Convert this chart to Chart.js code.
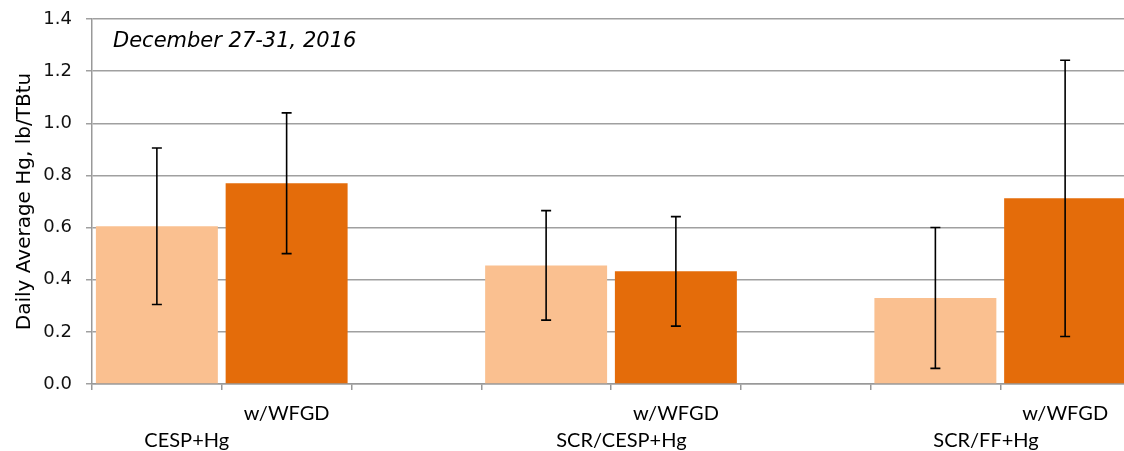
<!DOCTYPE html>
<html>
<head>
<meta charset="utf-8">
<script src="https://cdn.jsdelivr.net/npm/chart.js@4"></script>
<style>
    html, body { margin: 0; padding: 0; background: #fff; overflow: hidden; }
    #wrap { width: 1124px; height: 451px; overflow: hidden; }
</style>
</head>
<body>
<div id="wrap"><canvas id="chart" width="1130" height="451"></canvas></div>
<script>
// Data
const groupNames = ['CESP+Hg', 'SCR/CESP+Hg', 'SCR/FF+Hg'];
const seriesLabel = 'w/WFGD';
const baseValues = [0.605, 0.455, 0.33];
const baseErrors = [0.30, 0.21, 0.27];
const wfgdValues = [0.77, 0.432, 0.712];
const wfgdErrors = [0.27, 0.21, 0.53];
const yTicks = [0, 0.2, 0.4, 0.6, 0.8, 1.0, 1.2, 1.4];
const periodLabel = 'December 27-31, 2016';
const yTitle = 'Daily Average Hg, lb/TBtu';

// where each group name sits, in category units (layout only)
const groupLabelAt = [0.23, 3.58, 6.39];

const LIGHT = '#FAC090';
const DARK = '#E46C0A';

// each group takes three slots: base bar, w/WFGD bar, empty gap
const values = [];
const errors = [];
const tickLabels = [];
groupNames.forEach((g, i) => {
    values.push(baseValues[i], wfgdValues[i]);
    errors.push(baseErrors[i], wfgdErrors[i]);
    tickLabels.push('', seriesLabel);
    if (i < groupNames.length - 1) {
        values.push(null);
        errors.push(null);
        tickLabels.push('');
    }
});

const errorBars = {
    id: 'errorBars',
    afterDatasetsDraw(chart) {
        const { ctx, scales: { x, y } } = chart;
        ctx.save();
        ctx.strokeStyle = '#000';
        ctx.lineWidth = 1.6;
        values.forEach((v, i) => {
            if (v === null) return;
            const px = x.getPixelForValue(i);
            const top = y.getPixelForValue(v + errors[i]);
            const bot = y.getPixelForValue(v - errors[i]);
            ctx.beginPath();
            ctx.moveTo(px, top);
            ctx.lineTo(px, bot);
            ctx.moveTo(px - 5, top);
            ctx.lineTo(px + 5, top);
            ctx.moveTo(px - 5, bot);
            ctx.lineTo(px + 5, bot);
            ctx.stroke();
        });
        ctx.restore();
    }
};

const textLabels = {
    id: 'textLabels',
    afterDraw(chart) {
        const { ctx, chartArea, scales: { x } } = chart;
        ctx.save();
        ctx.fillStyle = '#000';
        ctx.font = 'italic 21px "DejaVu Sans"';
        ctx.textAlign = 'left';
        ctx.textBaseline = 'alphabetic';
        ctx.fillText(periodLabel, chartArea.left + 21, chartArea.top + 28);

        ctx.font = '20px Lato';
        ctx.textAlign = 'center';
        groupNames.forEach((g, i) => {
            ctx.fillText(g, x.getPixelForValue(groupLabelAt[i]), chartArea.bottom + 63);
        });
        ctx.restore();
    }
};

new Chart(document.getElementById('chart'), {
    type: 'bar',
    data: {
        labels: tickLabels,
        datasets: [{
            data: values,
            backgroundColor: (c) => (c.dataIndex % 3 === 0 ? LIGHT : DARK),
            borderWidth: 0,
            barPercentage: 0.94,
            categoryPercentage: 1.0
        }]
    },
    options: {
        responsive: false,
        animation: false,
        layout: { padding: 0 },
        plugins: {
            legend: { display: false },
            tooltip: { enabled: false }
        },
        scales: {
            x: {
                grid: {
                    drawOnChartArea: false,
                    drawTicks: true,
                    tickLength: 6,
                    color: '#999',
                    lineWidth: 1.5
                },
                border: { color: '#999', width: 1.5 },
                ticks: {
                    color: '#000',
                    font: { family: 'Lato', size: 20 },
                    padding: 12,
                    maxRotation: 0,
                    autoSkip: false
                },
                afterFit(scale) { scale.height = 67; }
            },
            y: {
                min: 0,
                max: 1.4,
                afterBuildTicks(scale) {
                    scale.ticks = yTicks.map(v => ({ value: v }));
                },
                grid: {
                    color: '#a0a0a0',
                    lineWidth: 1.5,
                    tickLength: 6
                },
                border: { color: '#999', width: 1.5 },
                ticks: {
                    color: '#111',
                    font: { family: 'DejaVu Sans', size: 18 },
                    padding: 14,
                    callback: (v) => Number(v).toFixed(1)
                },
                title: {
                    display: true,
                    text: yTitle,
                    color: '#000',
                    font: { family: 'DejaVu Sans', size: 20 },
                    padding: { top: 13, bottom: 0 }
                },
                afterFit(scale) {
                    scale.width = 92;
                    scale.paddingTop = 19;
                }
            }
        }
    },
    plugins: [errorBars, textLabels]
});
</script>
</body>
</html>
